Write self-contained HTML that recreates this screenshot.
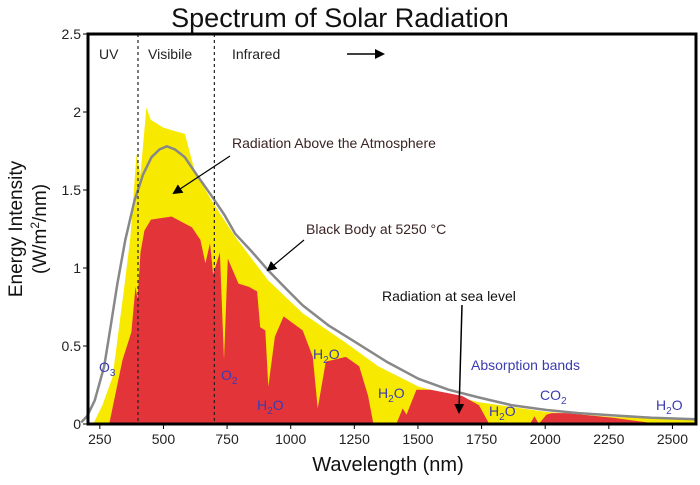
<!DOCTYPE html>
<html><head><meta charset="utf-8"><style>
body{margin:0;background:#fff}
svg text{font-family:"Liberation Sans",sans-serif}
</style></head><body>
<svg width="700" height="480" viewBox="0 0 700 480" id="chart">
<text x="340" y="27" font-size="27" text-anchor="middle" fill="#111">Spectrum of Solar Radiation</text>
<g id="plot"></g>
</svg>
<script>
const xTicks=[250,500,750,1000,1250,1500,1750,2000,2250,2500];
const yTicks=[0,0.5,1,1.5,2,2.5];
const yTickLabels=["0","0.5","1","1.5","2","2.5"];
const topW=[224,260,300,319,346,370,394,410,433,450,500,540,584,623,690,782,912,1047,1217,1344,1502,1740,2005,2266,2590];
const topV=[0,0.12,0.3,0.54,0.88,1.2,1.73,1.6,2.03,1.95,1.9,1.88,1.86,1.62,1.43,1.2,0.92,0.71,0.52,0.37,0.24,0.14,0.077,0.045,0.026];
const bbW=[177,200,230,267,290,319,350,386,420,453,485,513,545,584,630,690,740,782,850,909,980,1047,1150,1249,1376,1502,1620,1740,1870,2005,2130,2266,2420,2590];
const bbV=[0.01,0.05,0.15,0.37,0.6,0.9,1.18,1.43,1.6,1.71,1.76,1.78,1.76,1.71,1.6,1.46,1.34,1.22,1.1,0.99,0.87,0.76,0.63,0.53,0.4,0.29,0.22,0.17,0.12,0.09,0.07,0.055,0.04,0.03];
const seaW=[287,339,374,390,398,410,425,451,532,612,645,665,683,695,722,738,753,795,835,868,880,900,912,938,972,1047,1087,1106,1138,1217,1269,1304,1325,1415,1440,1455,1494,1550,1673,1740,1780,1940,1958,1975,2005,2025,2085,2266,2400,2450];
const seaV=[0,0.41,0.59,0.88,0.8,1.1,1.24,1.31,1.33,1.26,1.18,1.03,1.16,0.96,1.1,0.41,1.06,0.9,0.88,0.85,0.62,0.6,0.24,0.56,0.69,0.6,0.43,0.1,0.4,0.43,0.37,0.18,0,0,0.1,0.06,0.22,0.22,0.18,0.12,0,0,0.05,0,0.06,0.07,0.07,0.04,0.01,0];
const L=88,R=696,T=34,B=424;
const x=w=>138+(w-400)*0.2545;
const y=v=>B-v*156;
const NS="http://www.w3.org/2000/svg";
const g=document.getElementById('plot');
function mk(t,a,txt){const e=document.createElementNS(NS,t);for(const k in a)e.setAttribute(k,a[k]);if(txt!=null)e.textContent=txt;g.appendChild(e);return e;}
function area(W,V){let d='M'+x(W[0])+','+y(0);W.forEach((w,i)=>d+='L'+x(w).toFixed(1)+','+y(V[i]).toFixed(1));d+='L'+x(W[W.length-1])+','+y(0)+'Z';return d;}
let e;
e=mk('path',{d:area(topW,topV),fill:'#f7ea00'});


e=mk('path',{d:area(seaW,seaV),fill:'#e3343a'});


let d='';bbW.forEach((w,i)=>d+=(i?'L':'M')+x(w).toFixed(1)+','+y(bbV[i]).toFixed(1));
e=mk('path',{d:d,fill:'none',stroke:'#888',"stroke-width":2.5,"stroke-linejoin":"round"});


[400,700].forEach(w=>{e=mk('line',{x1:x(w),x2:x(w),y1:T,y2:B,stroke:'#222',"stroke-width":1.2,"stroke-dasharray":"3,3"});

});
e=mk('rect',{x:L,y:T,width:R-L,height:B-T,fill:'none',stroke:'#000',"stroke-width":3});


xTicks.forEach(t=>{mk('line',{x1:x(t),x2:x(t),y1:B,y2:B+5,stroke:'#000',"stroke-width":1});
e=mk('text',{x:x(t),y:B+20,"font-size":14,"text-anchor":"middle",fill:'#222'},String(t));

});
yTicks.forEach((t,i)=>{mk('line',{x1:L-5,x2:L,y1:y(t),y2:y(t),stroke:'#000',"stroke-width":1});
e=mk('text',{x:L-7,y:y(t)+5,"font-size":14,"text-anchor":"end",fill:'#222'},yTickLabels[i]);

});
</script>
<svg width="700" height="480" style="position:absolute;left:0;top:0">
<defs><marker id="ah" markerWidth="10" markerHeight="10" refX="8" refY="5" orient="auto" markerUnits="userSpaceOnUse"><path d="M0,0L10,5L0,10z" fill="#000"/></marker></defs>
<text x="388" y="471" font-size="20" text-anchor="middle" fill="#111">Wavelength (nm)</text>
<text transform="translate(22,229) rotate(-90)" font-size="19" text-anchor="middle" fill="#111">Energy Intensity</text>
<text transform="translate(46,229) rotate(-90)" font-size="19" text-anchor="middle" fill="#111">(W/m<tspan font-size="12" dy="-7">2</tspan><tspan dy="7">/nm)</tspan></text>
<g font-size="14" fill="#222">
<text x="99" y="59">UV</text>
<text x="148" y="59">Visibile</text>
<text x="232" y="59">Infrared</text>
</g>
<line x1="347" y1="54" x2="383" y2="54" stroke="#000" stroke-width="1.5" marker-end="url(#ah)"/>
<g font-size="14" fill="#3a2424">
<text x="232" y="148">Radiation Above the Atmosphere</text>
<text x="306" y="234">Black Body at 5250 °C</text>
<text x="382" y="301" fill="#111">Radiation at sea level</text>
</g>
<line x1="230" y1="156" x2="174" y2="193" stroke="#000" stroke-width="1.2" marker-end="url(#ah)"/>
<line x1="304" y1="240" x2="268" y2="270" stroke="#000" stroke-width="1.2" marker-end="url(#ah)"/>
<line x1="462" y1="305" x2="459" y2="412" stroke="#000" stroke-width="1.5" marker-end="url(#ah)"/>
<g font-size="14" fill="#3b3bb0">
<text x="471" y="370">Absorption bands</text>
<text x="99" y="372">O<tspan font-size="10" dy="4">3</tspan></text>
<text x="221" y="380">O<tspan font-size="10" dy="4">2</tspan></text>
<text x="257" y="410">H<tspan font-size="10" dy="4">2</tspan><tspan dy="-4">O</tspan></text>
<text x="313" y="359">H<tspan font-size="10" dy="4">2</tspan><tspan dy="-4">O</tspan></text>
<text x="378" y="398">H<tspan font-size="10" dy="4">2</tspan><tspan dy="-4">O</tspan></text>
<text x="489" y="416">H<tspan font-size="10" dy="4">2</tspan><tspan dy="-4">O</tspan></text>
<text x="540" y="400">CO<tspan font-size="10" dy="4">2</tspan></text>
<text x="656" y="410">H<tspan font-size="10" dy="4">2</tspan><tspan dy="-4">O</tspan></text>
</g>
</svg>
</body></html>
